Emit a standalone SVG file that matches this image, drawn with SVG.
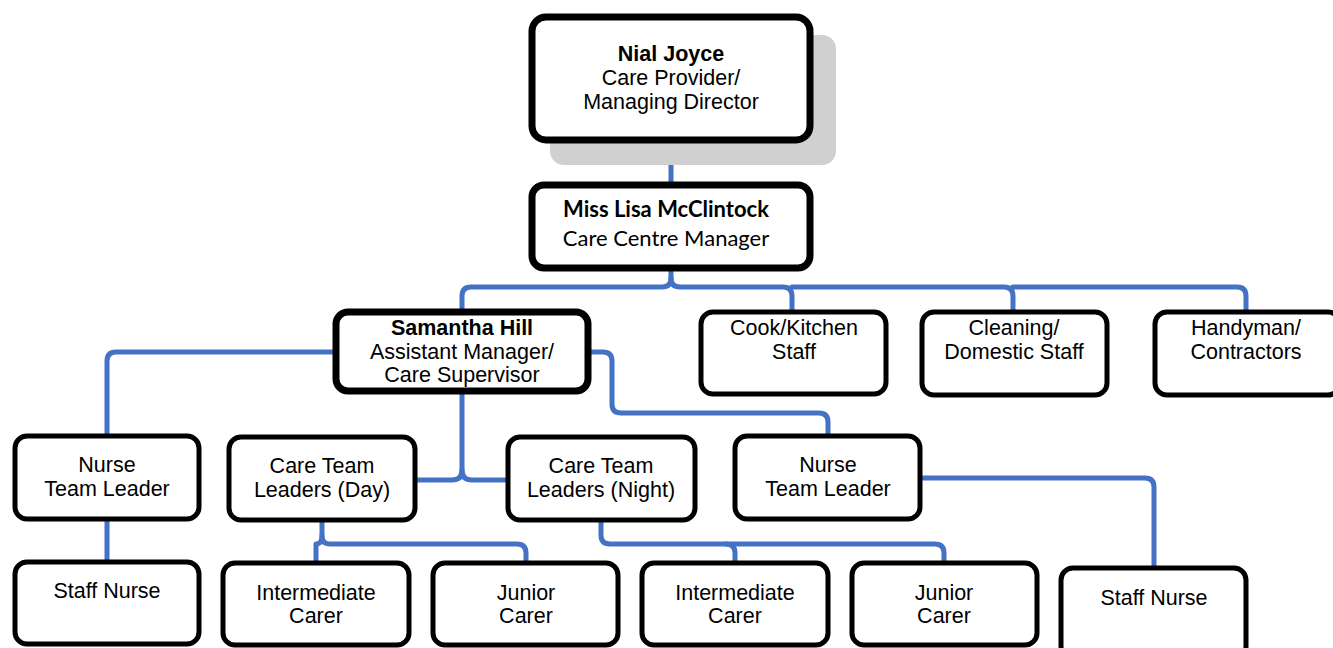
<svg xmlns="http://www.w3.org/2000/svg" width="1333" height="648" viewBox="0 0 1333 648">
<style>
.box{fill:#fff;stroke:#000;stroke-width:5}
.thick{stroke-width:7}
.shadow{fill:#d0d0d0}
.t{font-family:"Liberation Sans",Arial,sans-serif;font-size:21.5px;text-anchor:middle;fill:#000}
.b{font-weight:bold}
.c{font-family:Lato,"Open Sans",sans-serif;font-size:22px;text-anchor:middle;fill:#000}
.ln{fill:none;stroke:#4472C4;stroke-width:5;stroke-linecap:round;stroke-linejoin:round}
</style>
<rect width="1333" height="648" fill="#fff"/>
<g id="connectors">
<path class="ln" d="M671,142 V183"/>
<path class="ln" d="M671,270 V278 Q671,287 662,287 H471 Q462,287 462,296 V310"/>
<path class="ln" d="M671,278 Q671,287 680,287 H783 Q792,287 792,296 V310"/>
<path class="ln" d="M792,287 H1004 Q1013,287 1013,296 V310"/>
<path class="ln" d="M1013,287 H1237 Q1246,287 1246,296 V310"/>
<path class="ln" d="M334,352 H116 Q107,352 107,361 V435"/>
<path class="ln" d="M590,352 H603 Q612,352 612,361 V404 Q612,413 621,413 H819 Q828,413 828,422 V435"/>
<path class="ln" d="M462,393 V470 Q462,480 452,480 H416"/>
<path class="ln" d="M462,470 Q462,480 472,480 H508"/>
<path class="ln" d="M107,520 V561"/>
<path class="ln" d="M322,520 V536 Q322,544 330,544 H517 Q526,544 526,553 V562"/>
<path class="ln" d="M322,536 Q322,544 316,544 V562"/>
<path class="ln" d="M601,520 V535 Q601,544 610,544 H935 Q944,544 944,553 V562"/>
<path class="ln" d="M726,544 Q735,544 735,553 V562"/>
<path class="ln" d="M921,478 H1145 Q1154,478 1154,487 V567"/>
</g>
<g id="nial">
<rect class="shadow" x="550" y="35" width="286" height="130" rx="14"/>
<rect class="box thick" x="532" y="17" width="278" height="123" rx="14"/>
<text class="t b" x="671" y="61">Nial Joyce</text>
<text class="t" x="671" y="85">Care Provider/</text>
<text class="t" x="671" y="109">Managing Director</text>
</g>
<g id="lisa">
<rect class="box thick" x="532" y="185" width="278" height="83" rx="12"/>
<text class="c" x="666" y="217" font-weight="bold">Miss Lisa McClintock</text>
<text class="c" x="666" y="246">Care Centre Manager</text>
</g>
<g id="samantha">
<rect class="box thick" x="336" y="312" width="252" height="79" rx="12"/>
<text class="t b" x="462" y="335">Samantha Hill</text>
<text class="t" x="462" y="359">Assistant Manager/</text>
<text class="t" x="462" y="382">Care Supervisor</text>
</g>
<g id="cook">
<rect class="box" x="701" y="312" width="185" height="82" rx="12"/>
<text class="t" x="794" y="335">Cook/Kitchen</text>
<text class="t" x="794" y="359">Staff</text>
</g>
<g id="cleaning">
<rect class="box" x="922" y="312" width="185" height="83" rx="12"/>
<text class="t" x="1014" y="335">Cleaning/</text>
<text class="t" x="1014" y="359">Domestic Staff</text>
</g>
<g id="handyman">
<rect class="box" x="1155" y="312" width="185" height="83" rx="12"/>
<text class="t" x="1246" y="335">Handyman/</text>
<text class="t" x="1246" y="359">Contractors</text>
</g>
<g id="nurse-tl-left">
<rect class="box" x="15" y="436" width="184" height="83" rx="12"/>
<text class="t" x="107" y="472">Nurse</text>
<text class="t" x="107" y="496">Team Leader</text>
</g>
<g id="care-day">
<rect class="box" x="229" y="437" width="186" height="83" rx="12"/>
<text class="t" x="322" y="473">Care Team</text>
<text class="t" x="322" y="497">Leaders (Day)</text>
</g>
<g id="care-night">
<rect class="box" x="508" y="437" width="187" height="83" rx="12"/>
<text class="t" x="601" y="473">Care Team</text>
<text class="t" x="601" y="497">Leaders (Night)</text>
</g>
<g id="nurse-tl-right">
<rect class="box" x="735" y="436" width="185" height="83" rx="12"/>
<text class="t" x="828" y="472">Nurse</text>
<text class="t" x="828" y="496">Team Leader</text>
</g>
<g id="staff-nurse-left">
<rect class="box" x="15" y="562" width="184" height="82" rx="12"/>
<text class="t" x="107" y="598">Staff Nurse</text>
</g>
<g id="intermediate-1">
<rect class="box" x="223" y="563" width="186" height="82" rx="12"/>
<text class="t" x="316" y="600">Intermediate</text>
<text class="t" x="316" y="623">Carer</text>
</g>
<g id="junior-1">
<rect class="box" x="433" y="563" width="185" height="82" rx="12"/>
<text class="t" x="526" y="600">Junior</text>
<text class="t" x="526" y="623">Carer</text>
</g>
<g id="intermediate-2">
<rect class="box" x="642" y="563" width="186" height="82" rx="12"/>
<text class="t" x="735" y="600">Intermediate</text>
<text class="t" x="735" y="623">Carer</text>
</g>
<g id="junior-2">
<rect class="box" x="852" y="563" width="185" height="82" rx="12"/>
<text class="t" x="944" y="600">Junior</text>
<text class="t" x="944" y="623">Carer</text>
</g>
<g id="staff-nurse-right">
<rect class="box" x="1061" y="568" width="185" height="90" rx="12"/>
<text class="t" x="1154" y="605">Staff Nurse</text>
</g>
</svg>
